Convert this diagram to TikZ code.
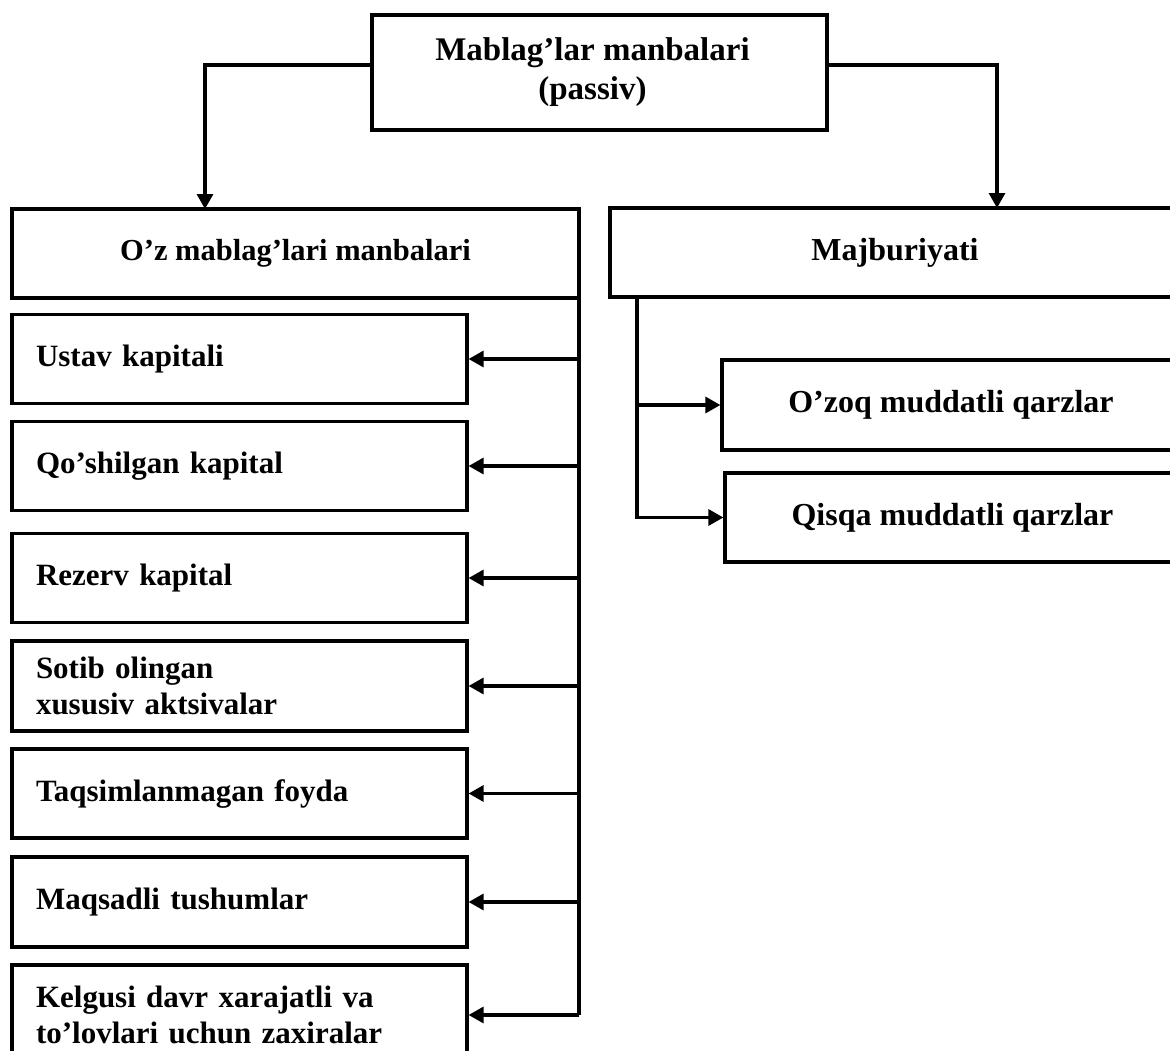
\documentclass[tikz,border=0pt]{standalone}
\usepackage{fontspec}
\setmainfont{Liberation Serif}
\usetikzlibrary{arrows.meta}
\begin{document}
\begin{tikzpicture}[x=1pt,y=-1pt,
  box/.style={draw=black,line width=3.2pt,rectangle,inner sep=0pt,font=\bfseries\fontsize{31}{37}\selectfont},
  hbox/.style={box,align=center,font=\bfseries\fontsize{33}{39}\selectfont},
  lbox/.style={box,minimum width=455pt,text width=407pt,align=left,inner xsep=24pt,minimum height=89pt},
  rbox/.style={box,align=center,font=\bfseries\fontsize{32}{38}\selectfont},
  link/.style={line width=3.2pt},
  arr/.style={line width=3.2pt,-{Triangle[length=15pt,width=16pt]}}]
\useasboundingbox (0,0) rectangle (1170,1050);
\clip (0,0) rectangle (1170,1050);
% top
\node[hbox,minimum width=455pt,minimum height=115pt] (top) at (599.5,72.5) {\hspace*{-14pt}Mablag'lar manbalari\\\hspace*{-14pt}(passiv)};
% second level
\node[box,minimum width=567pt,minimum height=89pt,font=\bfseries\fontsize{30.5}{37}\selectfont] (own) at (295.5,253.5) {O'z mablag'lari manbalari};
\node[box,minimum width=590pt,minimum height=89pt,font=\bfseries\fontsize{32}{38}\selectfont] (maj) at (905,252.5) {\hspace*{-20pt}Majburiyati};
\coordinate (la) at (205,209);
\coordinate (ra) at (997,208);
\draw[arr] ([yshift=7.5pt]top.west) -| (la);
\draw[arr] ([yshift=7.5pt]top.east) -| (ra);
% left items
\node[lbox] (u1) at (239.5,359) {Ustav kapitali};
\node[lbox] (u2) at (239.5,466) {Qo'shilgan kapital};
\node[lbox] (u3) at (239.5,578) {Rezerv kapital};
\node[lbox,minimum height=90pt,font=\bfseries\fontsize{31}{36}\selectfont] (u4) at (239.5,686) {Sotib olingan\\xususiv aktsivalar};
\node[lbox] (u5) at (239.5,793.5) {Taqsimlanmagan foyda};
\node[lbox,minimum height=90pt] (u6) at (239.5,902) {Maqsadli tushumlar};
\node[lbox,minimum height=100pt,font=\bfseries\fontsize{31}{36}\selectfont] (u7) at (239.5,1015) {Kelgusi davr xarajatli va\\to'lovlari uchun zaxiralar};
\coordinate (bus) at (579,298);
\draw[link] (bus) -- (bus |- u7.east);
\foreach \n in {u1,u2,u3,u4,u5,u6,u7}{
  \draw[arr] (bus |- \n.east) -- (\n.east);
}
% right items
\node[rbox,minimum width=458pt,minimum height=90pt] (oz) at (951,405) {O'zoq muddatli qarzlar};
\node[rbox,minimum width=455pt,minimum height=89pt] (qi) at (952.5,517.5) {Qisqa muddatli qarzlar};
\coordinate (mj) at (637,297);
\draw[link] (mj) -- (mj |- qi.west);
\draw[arr] (mj |- oz.west) -- (oz.west);
\draw[arr] ([xshift=-1.6pt]mj |- qi.west) -- (qi.west);
\end{tikzpicture}
\end{document}
